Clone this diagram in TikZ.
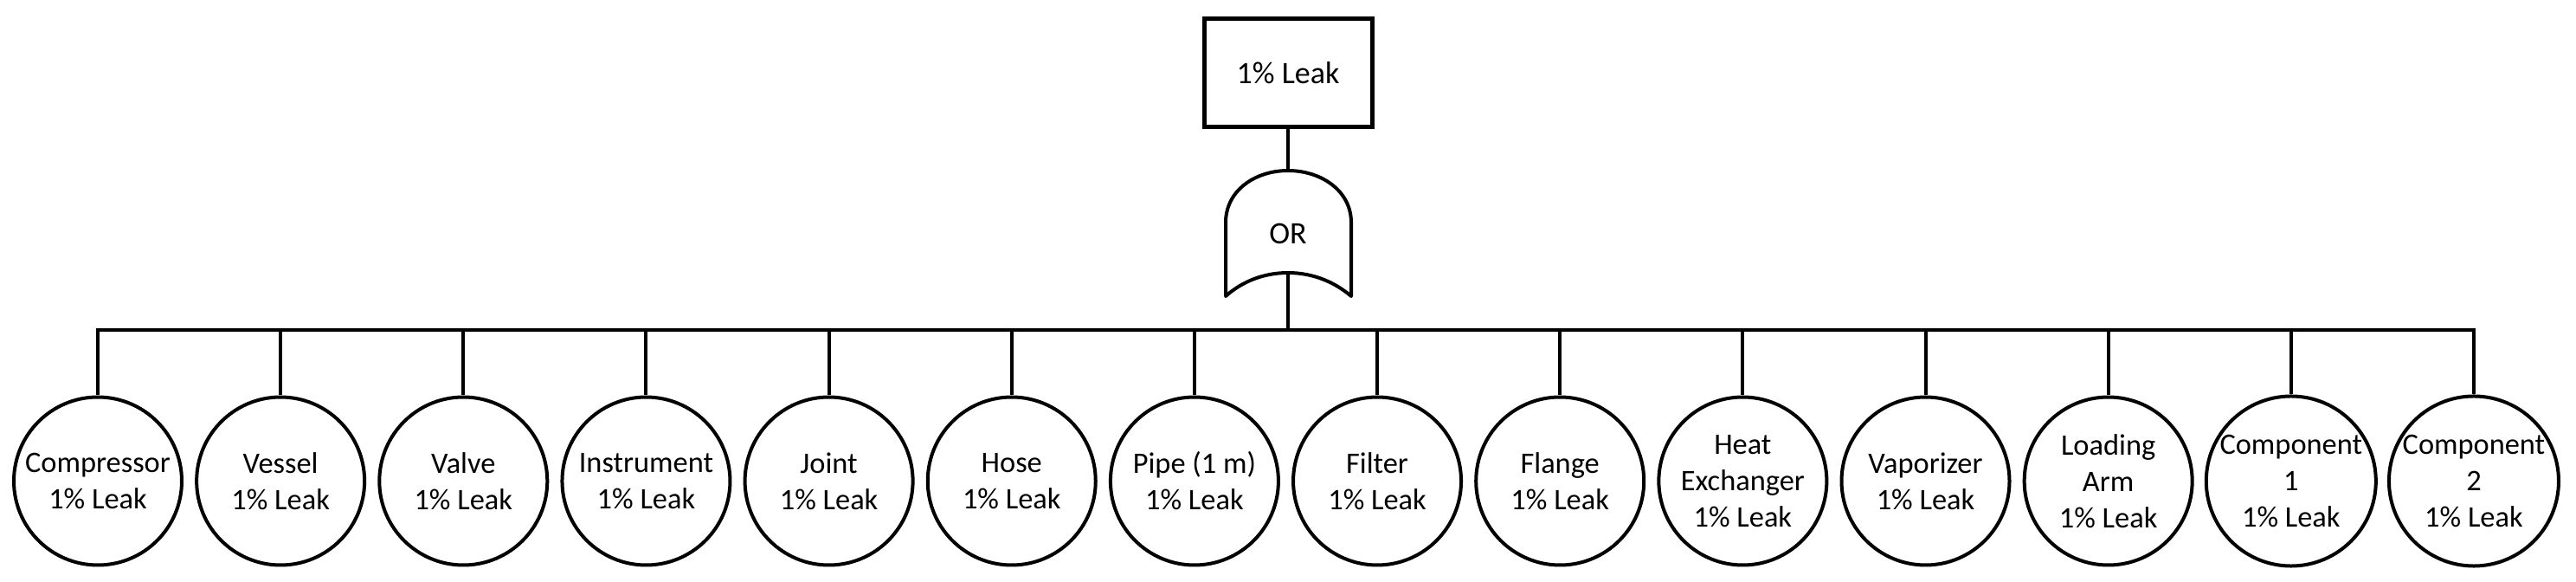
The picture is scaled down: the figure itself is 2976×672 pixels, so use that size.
\documentclass[tikz,border=0pt]{standalone}
\usepackage{fontspec}
\setmainfont{Carlito}
\begin{document}
\begin{tikzpicture}[x=0.5pt,y=-0.5pt,
  leaf/.style={draw,circle,line width=2pt,minimum size=97pt,inner sep=0pt,align=center,
    font=\fontsize{17.2}{21}\selectfont},
  topbox/.style={draw,rectangle,line width=2.5pt,minimum width=97pt,minimum height=62.5pt,
    font=\fontsize{18}{22}\selectfont},
  wire/.style={line width=2pt},
  gatestyle/.style={line width=2pt,line join=round}]
\useasboundingbox (0,0) rectangle (2976,672);
\node[topbox] (top) at (1488,84.5) {1\% Leak};
% OR gate
\coordinate (gtop) at (1488,197);
\coordinate (gbot) at (1488,315);
\draw[gatestyle] (1416,342) -- (1416,257) .. controls (1416,220) and (1450,197) .. (gtop)
  .. controls (1526,197) and (1561,220) .. (1561,257) -- (1561,342)
  .. controls (1541,325) and (1516,315) .. (gbot)
  .. controls (1460,315) and (1435,325) .. cycle;
\node[font=\fontsize{18}{22}\selectfont] (gate) at (1488,270) {OR};
\coordinate (bus) at (1488,381);
\draw[wire] (top.south) -- (gtop);
\draw[wire] (gbot) -- (bus);
\foreach \i/\t in {1/{Compressor\\1\% Leak},2/{Vessel\\1\% Leak},3/{Valve\\1\% Leak},
  4/{Instrument\\1\% Leak},5/{Joint\\1\% Leak},6/{Hose\\1\% Leak},7/{Pipe (1 m)\\1\% Leak},
  8/{Filter\\1\% Leak},9/{Flange\\1\% Leak},10/{Heat\\Exchanger\\1\% Leak},
  11/{Vaporizer\\1\% Leak},12/{Loading\\Arm\\1\% Leak},13/{Component\\1\\1\% Leak},
  14/{Component\\2\\1\% Leak}}{
  \node[leaf] (c\i) at ({113+211.15*(\i-1)},555.5) {\t};
  \draw[wire] (bus) -| (c\i.north);
}
\end{tikzpicture}
\end{document}
